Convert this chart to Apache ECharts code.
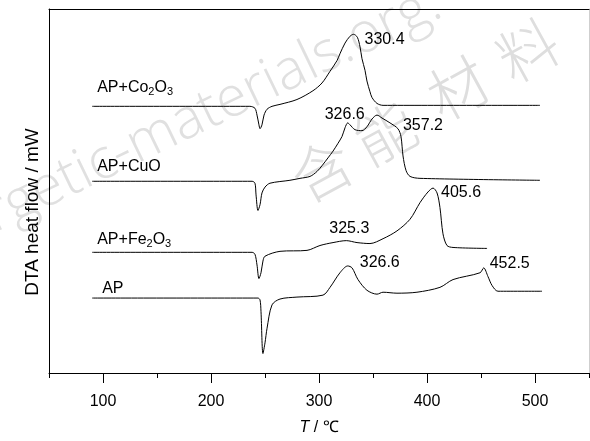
<!DOCTYPE html>
<html><head><meta charset="utf-8">
<script src="https://cdn.jsdelivr.net/npm/echarts@6/dist/echarts.min.js"></script>
<style>html,body{margin:0;padding:0;background:#fff}#c{width:590px;height:441px}</style>
</head><body><div id="c"></div>
<script>
// Temperatures (°C) and DTA heat-flow values (arbitrary, stacked offsets)
const tCo = [90,236,240.7,242.6,244.4,245.4,247.2,249.1,251.9,256.5,263.9,279.6,294.4,302.8,310.2,316.7,319.4,324.1,328.7,332,335.5,338.0,339.8,342.6,344.4,347.2,349.1,353.7,359.3,504.6];
const vCo = [274,274,272,265,255,251,255,265,271,274,276,281,290,298,310,321,328,339,346,348,345,335,323,311,300,289,283,277,275,275];

const tCu = [90,238.0,240.7,241.7,243.5,245.4,247.2,250,254.6,273.1,282.4,291.7,298.1,302.8,308.3,313.0,317.6,321.3,324.1,326.6,328.7,333.3,339.8,344.4,349.1,353.7,358.3,365.7,373.1,375.9,377.8,380.6,384.3,393.5,504.6];
const vCu = [197,197,195,183,167,173,185,191,195,198,200,202,207,213,221,228,236,243,252,257,255,250,249,253,261,265,262,257,251,243,223,208,202,200,198];

const tFe = [90,238.0,240.7,242.6,244.4,246.3,248.1,250,263.9,288.9,300.9,313.0,325.3,335.2,347.2,359.3,372.2,384.3,393.5,400.9,405.6,409.3,412.0,414.8,418.5,424.1,455.6];
const vFe = [124,124,122,111,97,103,115,120,125,126,131,134,136,134,133,138,146,158,175,186,190,185,170,143,131,129,128];

const tAP = [90,243.5,245.4,246.3,248.1,250,251.9,256.5,263.9,279.6,303.7,310.2,319.4,326.6,330.6,336.1,344.4,353.7,359.3,372.2,390.7,412.0,424.1,449.1,452.5,456.5,460.2,465.7,506.5];
const vAP = [77,77,75,63,20,31,46,70,76,78,80,88,103,110,108,96,85,81,83,82,83,88,96,103,108,99,90,84,84];

const seriesNames = ['AP+Co{s|2}O{s|3}', 'AP+CuO', 'AP+Fe{s|2}O{s|3}', 'AP'];
// peak annotations: [T, value, text]
const peaksCo = [[332, 348, '330.4']];
const peaksCu = [[326.6, 257, '326.6'], [358.3, 262, '357.2']];
const peaksFe = [[325.3, 136, '325.3'], [405.6, 190, '405.6']];
const peaksAP = [[326.6, 110, '326.6'], [452.5, 108, '452.5']];

const xTickLabels = ['50','100','150','200','250','300','350','400','450','500','550'];
const yAxisTitle = 'DTA heat flow / mW';

const FONT = "'Liberation Sans', Arial, sans-serif";
const chart = echarts.init(document.getElementById('c'));

function zip(t, v) { return t.map((x, i) => [x, v[i]]); }

const nameOffsets = [[5, -19], [5, -15], [5, -13], [10, -9]];
const peakPos = {
  '330.4': {pos: [11, 5], align: 'left'},
  '326.6a': {pos: [-3, -8], align: 'center'},
  '357.2': {pos: [21, 8], align: 'left'},
  '325.3': {pos: [3, -12], align: 'center'},
  '405.6': {pos: [8, 5], align: 'left'},
  '326.6b': {pos: [12, -3], align: 'left'},
  '452.5': {pos: [6, -4], align: 'left'}
};

function makeSeries(t, v, idx, peaks, keys) {
  const mp = [];
  mp.push({
    coord: [t[0], v[0]],
    label: {
      show: true, formatter: seriesNames[idx], position: nameOffsets[idx],
      align: 'left', verticalAlign: 'middle', color: '#000', fontSize: 16, fontFamily: FONT,
      rich: { s: { fontSize: 11, fontFamily: FONT, color: '#000', padding: [9, 0, 0, 0] } }
    }
  });
  peaks.forEach((p, i) => {
    const cfg = peakPos[keys[i]];
    mp.push({
      coord: [p[0], p[1]],
      label: {
        show: true, formatter: p[2], position: cfg.pos, align: cfg.align,
        verticalAlign: 'middle', color: '#000', fontSize: 16, fontFamily: FONT
      }
    });
  });
  return {
    type: 'line', data: zip(t, v), xAxisIndex: 0, yAxisIndex: 0,
    showSymbol: false, symbol: 'none', smooth: 0.3,
    lineStyle: { color: '#000', width: 1 },
    markPoint: { symbol: 'circle', symbolSize: 0, silent: true, animation: false, data: mp },
    animation: false, z: 3
  };
}

const wmChars = ['含', '能', '材', '料'];
const wmCharPos = [[322, 170], [385, 133], [458, 88], [528, 50]];
const wmGraphics = [{
  type: 'text', x: 450, y: 26, rotation: 0.45, z: -10, silent: true,
  style: { text: 'energetic-materials.org.', fontSize: 56, fontFamily: "'Open Sans', 'Liberation Sans', sans-serif",
           fontWeight: 300, fill: '#e0e0e0', align: 'right', verticalAlign: 'bottom' }
}];
wmChars.forEach((c, i) => wmGraphics.push({
  type: 'text', x: wmCharPos[i][0], y: wmCharPos[i][1], rotation: 0.5, z: -10, silent: true,
  style: { text: c, fontSize: 60, fontFamily: "'Noto Sans CJK SC', sans-serif", fontWeight: 300,
           fill: '#dedede', align: 'center', verticalAlign: 'middle' }
}));
wmGraphics.push({
  type: 'text', x: 33, y: 212, rotation: Math.PI / 2, z: 10, silent: true,
  style: { text: yAxisTitle, fontSize: 19, fontFamily: FONT, fill: '#000', align: 'center', verticalAlign: 'middle' }
});

chart.setOption({
  animation: false,
  backgroundColor: '#fff',
  grid: { left: 49, top: 9, width: 540, height: 374, containLabel: false },
  graphic: wmGraphics,
  xAxis: [
    { type: 'value', min: 50, max: 550, interval: 50, position: 'bottom',
      axisLine: { show: true, lineStyle: { color: '#000', width: 1 } },
      axisTick: { show: true, length: 5, lineStyle: { color: '#000' } },
      axisLabel: { show: false }, splitLine: { show: false } },
    { type: 'category', data: xTickLabels, boundaryGap: false, position: 'bottom',
      axisLine: { show: false },
      axisTick: { show: true, length: 10, interval: (i) => i % 2 === 1, lineStyle: { color: '#000' } },
      axisLabel: { show: true, interval: (i) => i % 2 === 1, color: '#000', fontSize: 16, fontFamily: FONT, margin: 21 },
      name: '{i|T} / ℃', nameLocation: 'middle', nameGap: 47,
      nameTextStyle: { color: '#000', fontSize: 16, fontFamily: FONT,
        rich: { i: { fontStyle: 'italic', fontSize: 16, fontFamily: FONT, color: '#000' } } },
      splitLine: { show: false } },
    { type: 'value', min: 50, max: 550, position: 'top',
      axisLine: { show: true, lineStyle: { color: '#000', width: 1 } },
      axisTick: { show: false }, axisLabel: { show: false }, splitLine: { show: false } }
  ],
  yAxis: [
    { type: 'value', min: 0, max: 374, position: 'left',
      axisLine: { show: true, lineStyle: { color: '#000', width: 1 } },
      axisTick: { show: false }, axisLabel: { show: false }, splitLine: { show: false } },
    { type: 'value', min: 0, max: 374, position: 'right',
      axisLine: { show: true, lineStyle: { color: '#cfcfcf', width: 1 } },
      axisTick: { show: false }, axisLabel: { show: false }, splitLine: { show: false } }
  ],
  series: [
    makeSeries(tCo, vCo, 0, peaksCo, ['330.4']),
    makeSeries(tCu, vCu, 1, peaksCu, ['326.6a', '357.2']),
    makeSeries(tFe, vFe, 2, peaksFe, ['325.3', '405.6']),
    makeSeries(tAP, vAP, 3, peaksAP, ['326.6b', '452.5'])
  ]
});
</script></body></html>
